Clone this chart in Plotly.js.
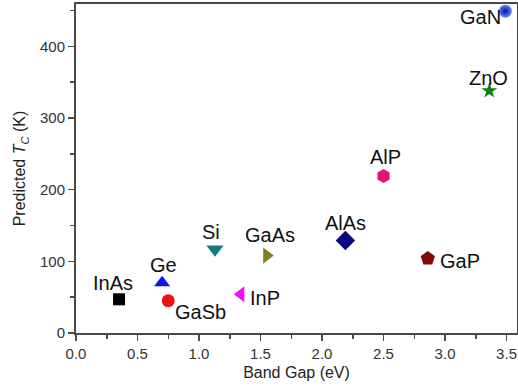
<!DOCTYPE html>
<html><head><meta charset="utf-8">
<script src="https://cdn.plot.ly/plotly-3.0.1.min.js"></script>
<style>html,body{margin:0;padding:0;background:#fff}</style>
</head><body>
<div id="chart" style="width:518px;height:389px"></div>
<script>
// Data
const materials = ["InAs","Ge","GaSb","Si","InP","GaAs","AlAs","AlP","GaP","ZnO","GaN"];
const bandGap   = [0.35, 0.70, 0.75, 1.13, 1.34, 1.55, 2.19, 2.50, 2.86, 3.36, 3.49];
const predictedTc = [47, 70, 45, 117, 54, 108, 129, 219, 104, 338, 449];
const xTicks = [0.0, 0.5, 1.0, 1.5, 2.0, 2.5, 3.0, 3.5];
const yTicks = [0, 100, 200, 300, 400];

// Styles (not data)
const symbols = ["square","triangle-up","circle","triangle-down","triangle-left","triangle-right","diamond","hexagon","pentagon","star","circle"];
const colors  = ["#000000","#0a14f0","#f01010","#107e7e","#f010f0","#80801a","#0a0a80","#e8107e","#800a0a","#108010","#0a14c8"];
const sizes   = [12, 14, 13, 15, 14, 14, 15, 14, 15, 12, 13];
// label placement: [xanchor, xshift, yshift] (all vertically centred)
const labelPos = [
  ["center",-6,16],
  ["center",1,18],
  ["left",5,-11],
  ["center",-4,17],
  ["left",7,-4],
  ["center",3,21],
  ["center",0,18],
  ["center",2,19],
  ["left",10,-3],
  ["center",-1,13],
  ["right",-2,-6]
];

const FONT = "Liberation Sans, Arial, sans-serif";

const traces = materials.map((m,i)=>({
  type:"scatter", mode:"markers", x:[bandGap[i]], y:[predictedTc[i]], name:m,
  marker:{symbol:symbols[i], color: i===10 ? "#6a86ff" : colors[i], size:sizes[i],
    line:{width:0},
    gradient: i===10 ? {type:"radial", color:"#0010a0"} : undefined},
  hoverinfo:"x+y+name", cliponaxis:false
}));

const annotations = materials.map((m,i)=>({
  x:bandGap[i], y:predictedTc[i], xref:"x", yref:"y", text:m, showarrow:false,
  xanchor:labelPos[i][0], yanchor:"middle", xshift:labelPos[i][1], yshift:labelPos[i][2],
  font:{family:FONT, size:20, color:"#111"}
}));

const axisCommon = {
  showline:true, linecolor:"#4a4a4a", linewidth:2, mirror:true, showgrid:false, zeroline:false,
  ticks:"outside", ticklen:6, tickwidth:1.5, tickcolor:"#4a4a4a", ticklabeloverflow:"allow",
  tickfont:{family:FONT, size:15, color:"#333"}
};

const layout = {
  width:518, height:389,
  margin:{l:76, r:1, t:4, b:56},
  paper_bgcolor:"#fff", plot_bgcolor:"#fff",
  showlegend:false,
  xaxis:Object.assign({}, axisCommon, {
    range:[0, 3.585], tickvals:xTicks, ticktext:xTicks.map(v=>v.toFixed(1)),
    minor:{tickvals:[0.25,0.75,1.25,1.75,2.25,2.75,3.25], ticks:"outside", ticklen:4, tickcolor:"#4a4a4a", tickwidth:1.5},
    title:{text:"Band Gap (eV)", font:{family:FONT, size:16, color:"#222"}, standoff:6}
  }),
  yaxis:Object.assign({}, axisCommon, {
    range:[0, 459], tickvals:yTicks, ticktext:yTicks.map(String),
    minor:{tickvals:[50,150,250,350,450], ticks:"outside", ticklen:4, tickcolor:"#4a4a4a", tickwidth:1.5},
    title:{text:"Predicted <i>T</i><sub><i>C</i></sub> (K)", font:{family:FONT, size:16, color:"#222"}, standoff:10}
  }),
  annotations:annotations
};

Plotly.newPlot("chart", traces, layout, {displayModeBar:false, staticPlot:true});
</script>
</body></html>
